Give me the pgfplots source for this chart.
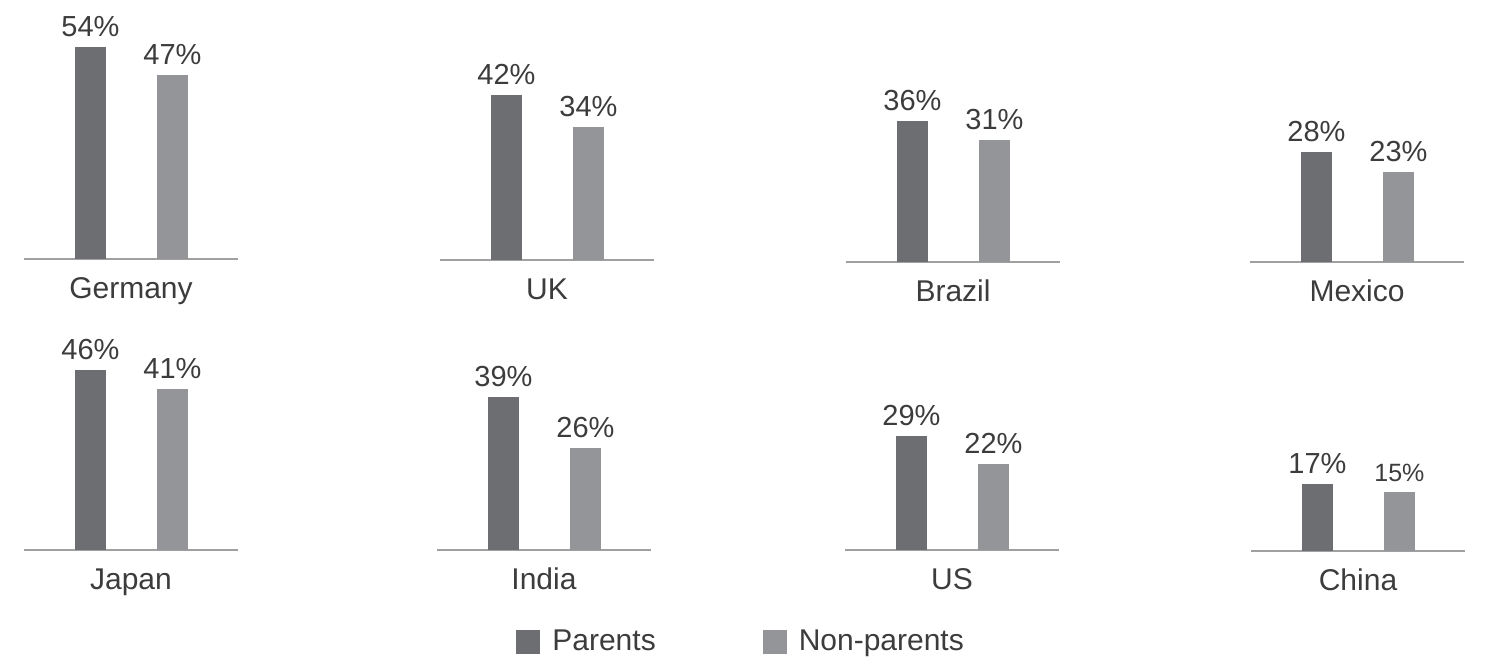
\documentclass[border=0pt]{standalone}
\usepackage{pgfplots}
\pgfplotsset{compat=1.18}
\usepackage{fontspec}
\setmainfont{Liberation Sans}

\definecolor{par}{HTML}{6D6E71}
\definecolor{nonpar}{HTML}{939598}
\definecolor{baseln}{HTML}{A0A0A0}
\definecolor{txt}{HTML}{3C3C3C}

\pgfplotsset{
  panel/.style={
    scale only axis,
    width=107pt, height=117.6pt,
    xmin=0.19, xmax=2.8,
    ymin=0, ymax=60,
    anchor=south west,
    clip=false,
    axis x line=bottom,
    axis y line=none,
    x axis line style={-, draw=baseln, line width=1pt},
    xtick=\empty, ytick=\empty,
    ybar, bar width=15.5pt, bar shift=0pt,
    /pgf/number format/assume math mode=true,
    nodes near coords={\pgfmathprintnumber\pgfplotspointmeta\%},
    every node near coord/.append style={
      font=\fontsize{14.5}{17}\selectfont, text=txt, inner sep=0pt, yshift=5pt},
    xlabel style={at={(axis description cs:0.5,0)}, anchor=base,
      yshift=-19.5pt, inner sep=0pt, text=txt,
      font=\fontsize{15}{18}\selectfont},
  },
  pbar/.style={fill=par, draw=none},
  nbar/.style={fill=nonpar, draw=none},
}

\begin{document}
\begin{tikzpicture}
\path[use as bounding box] (0,0) rectangle (743pt,-329pt);

% top row
\begin{axis}[panel, at={(12pt,-129.5pt)}, xlabel={Germany}]
  \addplot[pbar] coordinates {(1,54)};
  \addplot[nbar] coordinates {(2,47)};
\end{axis}
\begin{axis}[panel, at={(220pt,-130pt)}, xlabel={UK}]
  \addplot[pbar] coordinates {(1,42)};
  \addplot[nbar] coordinates {(2,34)};
\end{axis}
\begin{axis}[panel, at={(423pt,-131pt)}, xlabel={Brazil}]
  \addplot[pbar] coordinates {(1,36)};
  \addplot[nbar] coordinates {(2,31)};
\end{axis}
\begin{axis}[panel, at={(625pt,-131pt)}, xlabel={Mexico}]
  \addplot[pbar] coordinates {(1,28)};
  \addplot[nbar] coordinates {(2,23)};
\end{axis}

% bottom row
\begin{axis}[panel, at={(12pt,-275pt)}, xlabel={Japan}]
  \addplot[pbar] coordinates {(1,46)};
  \addplot[nbar] coordinates {(2,41)};
\end{axis}
\begin{axis}[panel, at={(218.5pt,-275pt)}, xlabel={India},
    legend columns=2,
    legend image code/.code={\fill[#1] (0pt,-6pt) rectangle (12pt,6pt);
      \path (16pt,0pt);},
    legend style={at={(axis description cs:0.369,-0.391)}, anchor=west,
      draw=none, fill=none, inner sep=0pt, text=txt,
      font=\fontsize{15}{18}\selectfont,
      /tikz/every even column/.append style={column sep=51.5pt}}]
  \addplot[pbar] coordinates {(1,39)};
  \addlegendentry{Parents}
  \addplot[nbar] coordinates {(2,26)};
  \addlegendentry{Non-parents}
\end{axis}
\begin{axis}[panel, at={(422.5pt,-275pt)}, xlabel={US}]
  \addplot[pbar] coordinates {(1,29)};
  \addplot[nbar] coordinates {(2,22)};
\end{axis}
\begin{axis}[panel, at={(625.5pt,-275.5pt)}, xlabel={China}]
  \addplot[pbar] coordinates {(1,17)};
  \addplot[nbar, every node near coord/.append style={font=\fontsize{12.5}{14}\selectfont}] coordinates {(2,15)};
\end{axis}
\end{tikzpicture}
\end{document}
